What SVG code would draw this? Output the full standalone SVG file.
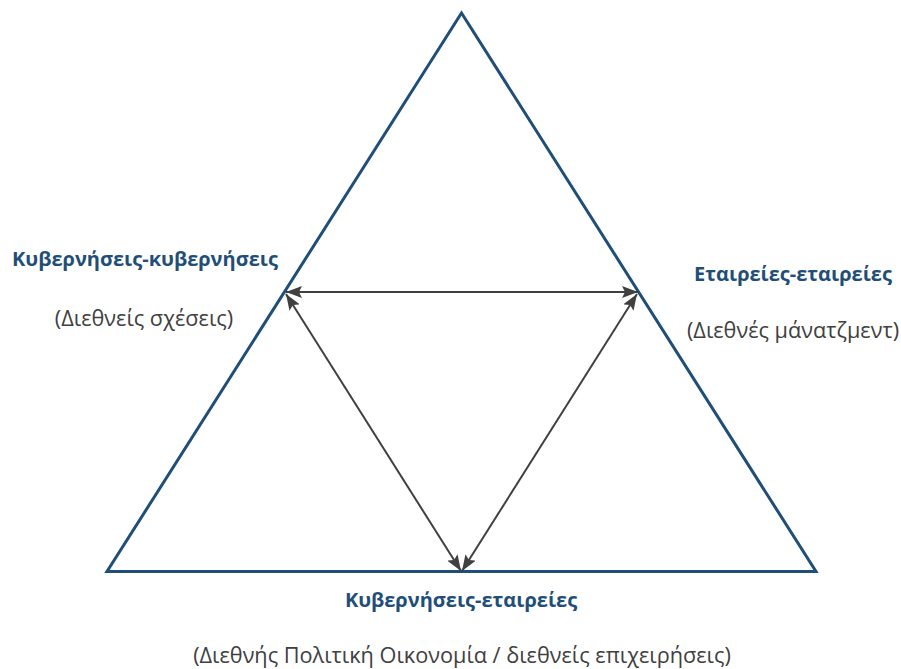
<svg xmlns="http://www.w3.org/2000/svg" width="901" height="669" viewBox="0 0 901 669">
<defs>
<marker id="ah" viewBox="0 0 16 12" refX="16" refY="6" markerWidth="16" markerHeight="12" markerUnits="userSpaceOnUse" orient="auto-start-reverse"><path d="M0,0 L16,6 L0,12 L3,6 z" fill="#404040"/></marker>
<style>
.tri{fill:none;stroke:#1F4E79;stroke-width:3;stroke-linejoin:miter}
.ar{stroke:#404040;stroke-width:2;fill:none;marker-start:url(#ah);marker-end:url(#ah)}
.b{font-family:"Open Sans","Noto Sans",sans-serif;font-weight:bold;font-size:20px;fill:#1F4E79}
.g{font-family:"Open Sans","Noto Sans",sans-serif;font-size:21.7px;fill:#404040}
</style>
</defs>
<rect width="901" height="669" fill="#fff"/>
<g id="triangle"><polygon class="tri" points="461.5,13 107,571.5 816,571.5"/></g>
<g id="connectors">
<line class="ar" x1="286" y1="292" x2="638" y2="292"/>
<line class="ar" x1="286" y1="294" x2="461" y2="571"/>
<line class="ar" x1="637" y1="294" x2="462" y2="571"/>
</g>
<g id="node-gov-gov">
<text class="b" x="145" y="266" text-anchor="middle">Κυβερνήσεις-κυβερνήσεις</text>
<text class="g" x="144" y="326" text-anchor="middle">(Διεθνείς σχέσεις)</text>
</g>
<g id="node-firm-firm">
<text class="b" x="793" y="281" text-anchor="middle">Εταιρείες-εταιρείες</text>
<text class="g" x="793" y="338" text-anchor="middle">(Διεθνές μάνατζμεντ)</text>
</g>
<g id="node-gov-firm">
<text class="b" x="461" y="607" text-anchor="middle">Κυβερνήσεις-εταιρείες</text>
<text class="g" x="462" y="663" text-anchor="middle">(Διεθνής Πολιτική Οικονομία / διεθνείς επιχειρήσεις)</text>
</g>
</svg>
